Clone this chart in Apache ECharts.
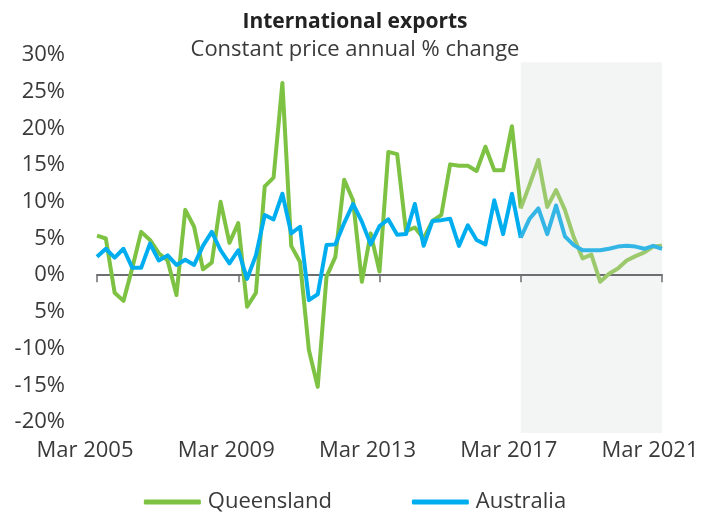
<!DOCTYPE html>
<html>
<head>
<meta charset="utf-8">
<script src="https://cdn.jsdelivr.net/npm/echarts@6/dist/echarts.min.js"></script>
<style>
  html, body { margin: 0; padding: 0; background: #fff; }
  #chart { width: 710px; height: 513px; }
</style>
</head>
<body>
<div id="chart"></div>
<script>
// quarterly, Mar 2005 .. Mar 2021
const years = [2005, 2006, 2007, 2008, 2009, 2010, 2011, 2012, 2013, 2014, 2015, 2016, 2017, 2018, 2019, 2020, 2021]
const months = ['Mar', 'Jun', 'Sep', 'Dec']
const quarters = []
years.forEach(y => months.forEach(m => { if (y < 2021 || m === 'Mar') quarters.push(m + ' ' + y) }))

const queensland = [
  5.4, 5.0, -2.4, -3.5, 1.0, 5.9, 4.8, 3.0, 2.0, -2.7, 8.9, 6.6, 0.8, 1.7, 10.0, 4.4,
  7.1, -4.3, -2.4, 12.1, 13.3, 26.2, 4.0, 1.8, -10.2, -15.2, -0.2, 2.5, 13.0, 10.2, -0.9, 5.7,
  0.5, 16.8, 16.5, 6.0, 6.5, 5.0, 7.4, 8.2, 15.1, 14.9, 14.9, 14.2, 17.5, 14.3, 14.3, 20.3,
  9.1, 12.3, 15.7, 9.3, 11.6, 8.9, 5.2, 2.3, 2.8, -0.9, 0.2, 0.9, 2.0, 2.6, 3.1, 3.9,
  4.0
]
const australia = [
  2.5, 3.6, 2.4, 3.6, 1.0, 1.0, 4.3, 2.0, 2.7, 1.4, 2.1, 1.4, 4.0, 5.9, 3.4, 1.6,
  3.4, -0.5, 2.7, 8.2, 7.6, 11.1, 5.7, 6.6, -3.4, -2.6, 4.1, 4.2, 7.1, 9.7, 7.3, 4.2,
  6.7, 7.6, 5.5, 5.6, 9.7, 4.0, 7.4, 7.5, 7.7, 4.0, 6.8, 4.8, 4.2, 10.2, 5.6, 11.1,
  5.1, 7.7, 9.1, 5.6, 9.5, 5.3, 4.1, 3.4, 3.4, 3.4, 3.6, 3.9, 4.0, 3.9, 3.6, 4.0,
  3.6
]
// y tick labels as printed (the -5 tick has no minus sign in the original)
const yTicks = { '30': '30%', '25': '25%', '20': '20%', '15': '15%', '10': '10%', '5': '5%', '0': '0%',
  '-5': '5%', '-10': '-10%', '-15': '-15%', '-20': '-20%' }
const forecastStart = 'Mar 2017'
const forecastEnd = 'Mar 2021'

const font = 'Open Sans'
const textColor = '#3a3a3a'
const green = '#7dc242', greenLight = '#9cc96b'
const blue = '#00aeef', blueLight = '#33b5e6'

const fIdx = quarters.indexOf(forecastStart)
// split into history / forecast parts (forecast drawn lighter)
const hist = arr => arr.map((v, i) => i <= fIdx ? v : null)
const fcst = arr => arr.map((v, i) => i >= fIdx ? v : null)

const chart = echarts.init(document.getElementById('chart'), null, { renderer: 'canvas' })

const lineBase = { type: 'line', symbol: 'none', showSymbol: false, clip: false, lineStyle: { width: 4, join: 'round' } }

chart.setOption({
  animation: false,
  title: {
    text: 'International exports',
    subtext: 'Constant price annual % change',
    left: 'center',
    top: 7,
    itemGap: 6,
    textStyle: { fontFamily: font, fontWeight: 'bold', fontSize: 21, color: '#222' },
    subtextStyle: { fontFamily: font, fontSize: 22, color: textColor }
  },
  legend: {
    top: 486,
    left: 'center',
    itemWidth: 57,
    itemHeight: 5,
    itemGap: 80,
    icon: 'roundRect',
    textStyle: { fontFamily: font, fontSize: 22, color: textColor, padding: [0, 0, 0, 2] },
    data: ['Queensland', 'Australia']
  },
  grid: { left: 97, right: 48, top: 55, bottom: 91, containLabel: false },
  xAxis: [
    {
      type: 'category',
      data: quarters,
      boundaryGap: false,
      axisLine: { onZero: true, lineStyle: { color: '#6d6e71', width: 2 } },
      axisTick: { show: true, interval: 15, length: 7, lineStyle: { color: '#6d6e71', width: 1.5 } },
      axisLabel: { show: false },
      splitLine: { show: false }
    },
    {
      type: 'category',
      data: quarters,
      boundaryGap: false,
      position: 'bottom',
      axisLine: { show: false, onZero: false },
      axisTick: { show: false },
      axisLabel: {
        interval: 15, margin: 18, padding: [0, 24, 0, 0],
        fontFamily: font, fontSize: 22, color: textColor
      },
      splitLine: { show: false }
    }
  ],
  yAxis: {
    type: 'value',
    min: -20,
    max: 30,
    interval: 5,
    axisLine: { show: false },
    axisTick: { show: false },
    splitLine: { show: false },
    axisLabel: {
      margin: 32,
      fontFamily: font, fontSize: 22, color: textColor,
      formatter: v => yTicks[String(v)]
    }
  },
  series: [
    Object.assign({}, lineBase, { name: 'Queensland', data: hist(queensland), color: green, z: 3 }),
    Object.assign({}, lineBase, { name: 'Queensland forecast', data: fcst(queensland), color: greenLight, z: 3 }),
    Object.assign({}, lineBase, { name: 'Australia', data: hist(australia), color: blue, z: 4 }),
    Object.assign({}, lineBase, { name: 'Australia forecast', data: fcst(australia), color: blueLight, z: 4 })
  ]
})

// forecast shading, a bit taller than the plot like in the original
const x0 = chart.convertToPixel({ xAxisIndex: 0 }, forecastStart)
const x1 = chart.convertToPixel({ xAxisIndex: 0 }, forecastEnd)
const y0 = chart.convertToPixel({ yAxisIndex: 0 }, 29)
const y1 = chart.convertToPixel({ yAxisIndex: 0 }, -21.5)
chart.setOption({
  graphic: [{
    type: 'rect',
    z: 0,
    silent: true,
    shape: { x: x0, y: y0, width: x1 - x0, height: y1 - y0 },
    style: { fill: '#f3f4f4' }
  }]
})
</script>
</body>
</html>
